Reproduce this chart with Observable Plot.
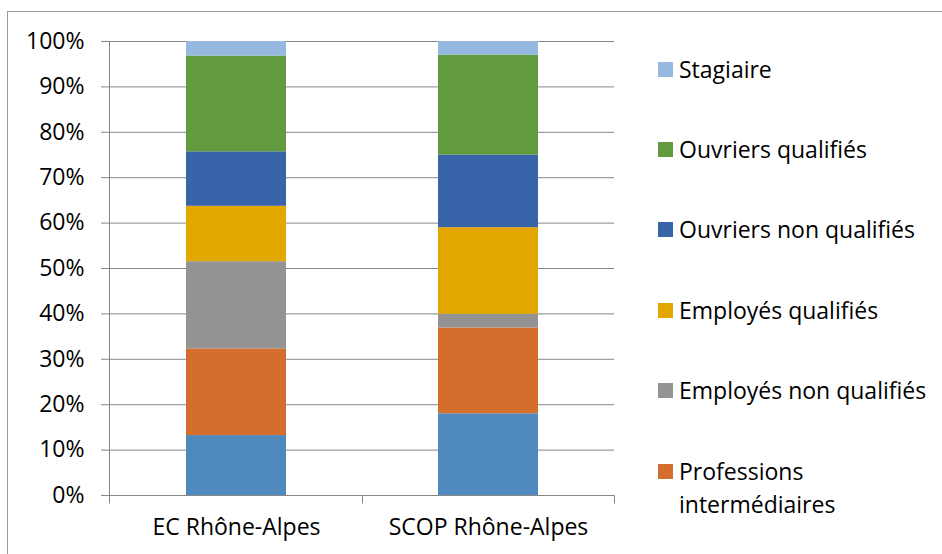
<!DOCTYPE html>
<html>
<head>
<meta charset="utf-8">
<script src="https://cdn.jsdelivr.net/npm/d3@7"></script>
<script src="https://cdn.jsdelivr.net/npm/@observablehq/plot@0.6"></script>
<style>
  html, body { margin: 0; padding: 0; background: #fff; }
  #wrap { position: relative; width: 942px; height: 554px; overflow: hidden; font-family: "Open Sans", sans-serif; }
  #frame { position: absolute; left: 7px; top: 11px; width: 1000px; height: 600px; border-left: 1px solid #9a9a9a; border-top: 1px solid #9a9a9a; box-sizing: border-box; pointer-events: none; }
  #chart { position: absolute; left: 0; top: 0; }
  .lg { position: absolute; left: 658px; font-size: 23px; line-height: 33px; color: #000; }
  .lg .sw { position: absolute; left: 0; top: 9px; width: 15px; height: 15px; }
  .lg .tx { position: absolute; left: 21px; top: 0; width: 262px; white-space: normal; }
</style>
</head>
<body>
<div id="wrap">
  <div id="frame"></div>
  <div id="chart"></div>
  <div id="legend"></div>
</div>
<script>
const categories = ["EC Rhône-Alpes", "SCOP Rhône-Alpes"];
const series = ["Cadres", "Professions intermédiaires", "Employés non qualifiés", "Employés qualifiés", "Ouvriers non qualifiés", "Ouvriers qualifiés", "Stagiaire"];
const ecValues = [13.2, 19.1, 19.2, 12.2, 12.0, 21.1, 3.2];
const scopValues = [18.0, 18.9, 3.0, 19.1, 16.0, 22.0, 3.0];
const colors = ["#4F89BD", "#D36E2C", "#939393", "#E2A800", "#3A64AA", "#629A3E", "#95B9E0"];
const yTicks = [0, 10, 20, 30, 40, 50, 60, 70, 80, 90, 100];
const legendSeries = ["Stagiaire", "Ouvriers qualifiés", "Ouvriers non qualifiés", "Employés qualifiés", "Employés non qualifiés", "Professions intermédiaires"];

const data = [];
series.forEach((s, i) => {
  data.push({category: categories[0], series: s, value: ecValues[i]});
  data.push({category: categories[1], series: s, value: scopValues[i]});
});

const gray = "#878787";

function axisLines(index, scales, values, dimensions) {
  const {width, marginLeft, marginRight} = dimensions;
  const y0 = Math.round(scales.y(0)) + 0.5;
  const y1 = Math.round(scales.y(100)) + 0.5;
  const g = d3.create("svg:g").attr("stroke", gray).attr("stroke-width", 1).attr("fill", "none");
  const xl = marginLeft + 0.5;
  const xr = width - marginRight + 0.5;
  g.append("line").attr("x1", xl).attr("x2", xl).attr("y1", y1).attr("y2", y0);
  g.append("line").attr("x1", xl).attr("x2", xr).attr("y1", y0).attr("y2", y0);
  const n = categories.length;
  const step = (width - marginLeft - marginRight) / n;
  for (let i = 0; i <= n; i++) {
    const x = Math.round(marginLeft + i * step) + 0.5;
    g.append("line").attr("x1", x).attr("x2", x).attr("y1", y0).attr("y2", y0 + 8);
  }
  return g.node();
}

const chart = Plot.plot({
  width: 942,
  height: 554,
  marginLeft: 109,
  marginRight: 328,
  marginTop: 41,
  marginBottom: 59,
  style: {fontFamily: "Open Sans, sans-serif", fontSize: "23px", color: "#000", background: "transparent", overflow: "visible"},
  x: {domain: categories, paddingInner: 0.604, paddingOuter: 0.302, label: null},
  y: {domain: [0, 100], label: null},
  color: {domain: series, range: colors},
  marks: [
    Plot.ruleY(yTicks, {stroke: gray, strokeWidth: 1}),
    Plot.barY(data, {x: "category", y: "value", fill: "series", order: series}),
    axisLines,
    Plot.axisY({ticks: yTicks, tickFormat: d => d + "%", tickSize: 8, tickPadding: 17, stroke: gray, fill: "#000", fontSize: 23, label: null}),
    Plot.axisX({tickSize: 0, tickPadding: 23, fill: "#000", fontSize: 23, label: null})
  ]
});
document.getElementById("chart").appendChild(chart);

const legend = document.getElementById("legend");
legendSeries.forEach((s, i) => {
  const item = document.createElement("div");
  item.className = "lg";
  item.style.top = (69 - 16.5 + i * 80.4) + "px";
  const sw = document.createElement("div");
  sw.className = "sw";
  sw.style.background = colors[series.indexOf(s)];
  const tx = document.createElement("div");
  tx.className = "tx";
  tx.textContent = s;
  item.appendChild(sw);
  item.appendChild(tx);
  legend.appendChild(item);
});
</script>
</body>
</html>
